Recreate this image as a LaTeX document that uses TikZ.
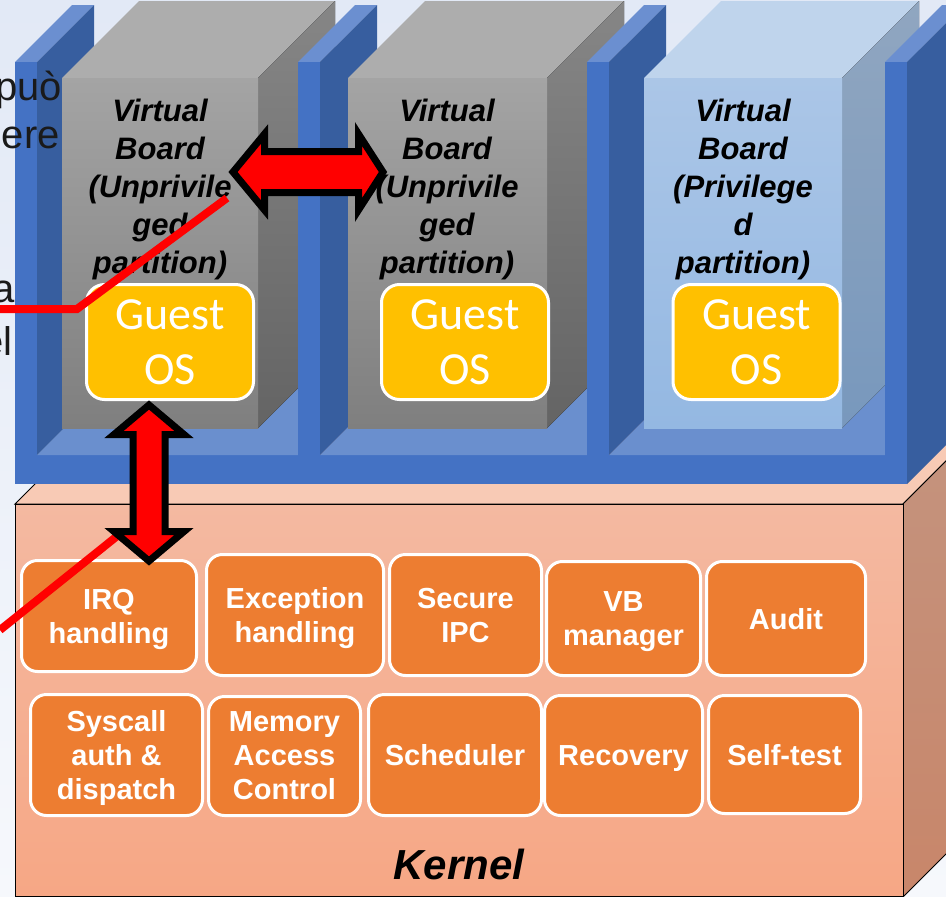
\documentclass[tikz,border=0pt]{standalone}
\usepackage{fontspec}
\setmainfont{Liberation Sans}
\newfontfamily\guestfont{Carlito}
\usetikzlibrary{calc}

\definecolor{bgtop}{HTML}{E2E9F6}
\definecolor{bgbot}{HTML}{F6F8FC}
\definecolor{platefront}{HTML}{4472C4}
\definecolor{plateside}{HTML}{375E9F}
\definecolor{platetop}{HTML}{6B8FD0}
\definecolor{floorblue}{HTML}{6A8FCE}
\definecolor{graytop}{HTML}{ADADAD}
\definecolor{grayfronttop}{HTML}{A4A4A4}
\definecolor{grayfrontbot}{HTML}{7F7F7F}
\definecolor{graysidetop}{HTML}{868686}
\definecolor{graysidebot}{HTML}{646464}
\definecolor{ltop}{HTML}{BFD4EC}
\definecolor{lfronttop}{HTML}{ABC6E7}
\definecolor{lfrontbot}{HTML}{94B8E2}
\definecolor{lsidetop}{HTML}{90A6C0}
\definecolor{lsidebot}{HTML}{7898BD}
\definecolor{guestyellow}{HTML}{FFC000}
\definecolor{modorange}{HTML}{ED7D31}
\definecolor{kerneltop}{HTML}{F8CAB5}
\definecolor{kernelfronttop}{HTML}{F4B9A1}
\definecolor{kernelfrontbot}{HTML}{F6A785}
\definecolor{kernelsidetop}{HTML}{C4947F}
\definecolor{kernelsidebot}{HTML}{C8866A}
\definecolor{textdark}{HTML}{1A1A1A}

% one divider slab of the partition rack: top, inner side and front faces
\newcommand{\plateslab}[2]{%
  \fill[platetop] (#1,62) -- (#1+22,62) -- (#1+79,5) -- (#1+57,5) -- cycle;
  \fill[plateside] (#1+22,62) -- (#1+79,5) -- (#1+79,#2-57) -- (#1+22,#2) -- cycle;
  \fill[platefront] (#1,62) rectangle (#1+22,484);
}
% one virtual board block: name, left x, right x, top colour,
% front gradient (top, bottom), side gradient (top, bottom)
\newcommand{\vbblock}[8]{%
  \fill[#4] (#2,78) -- (#3,78) -- (#3+77,1) -- (#2+77,1) -- cycle;
  \fill[top color=#7, bottom color=#8] (#3,78) -- (#3+77,1) -- (#3+77,351) -- (#3,428) -- cycle;
  \node[anchor=north west, inner sep=0, outer sep=0,
        minimum width={(#3-#2)*1pt}, minimum height=350,
        top color=#5, bottom color=#6] (#1) at (#2,78) {};
}

\tikzset{
  guest/.style={rounded corners=18, fill=guestyellow, draw=white, line width=3,
    minimum width=167, minimum height=115, inner sep=0, align=center,
    text=white, font=\guestfont\fontsize{46}{55}\selectfont},
  module/.style={rounded corners=16, fill=modorange, draw=white, line width=3,
    inner sep=0, align=center, text=white, text depth=0pt,
    font=\bfseries\fontsize{29}{34}\selectfont},
  vblabel/.style={anchor=north, inner sep=0, align=center, text=black,
    font=\bfseries\itshape\fontsize{31}{38}\selectfont},
  blockarrow/.style={draw=black, fill=red, line width=7, line join=miter, miter limit=10},
  pointer/.style={draw=red, line width=8},
  sidetext/.style={anchor=base east, inner sep=0, text=textdark,
    font=\fontsize{40}{48}\selectfont},
}

\begin{document}
\begin{tikzpicture}[x=1pt,y=-1pt]
\useasboundingbox (0,0) rectangle (946,897);
\clip (0,0) rectangle (946,897);
\fill[top color=bgtop, bottom color=bgbot] (0,0) rectangle (946,897);

% kernel block
\filldraw[fill=kerneltop, draw=black, line width=1]
  (15,504) -- (903,504) -- (1003,404) -- (115,404) -- cycle;
\filldraw[top color=kernelsidetop, bottom color=kernelsidebot, draw=black, line width=1]
  (903,504) -- (1003,404) -- (1003,797) -- (903,897) -- cycle;
\node[draw=black, line width=1, anchor=north west, inner sep=0, outer sep=0,
      minimum width=888, minimum height=392,
      top color=kernelfronttop, bottom color=kernelfrontbot] (kernel) at (15,504) {};

% partition rack: base and floors
\fill[platefront] (15,455) rectangle (907,484);
\fill[floorblue] (37,455) -- (298,455) -- (373,380) -- (112,380) -- cycle;
\fill[floorblue] (320,455) -- (587,455) -- (662,380) -- (395,380) -- cycle;
\fill[floorblue] (609,455) -- (885,455) -- (960,380) -- (684,380) -- cycle;

% slabs and virtual boards, back to front
\plateslab{15}{455}
\vbblock{vb1}{62}{258}{graytop}{grayfronttop}{grayfrontbot}{graysidetop}{graysidebot}
\plateslab{298}{455}
\vbblock{vb2}{348}{547}{graytop}{grayfronttop}{grayfrontbot}{graysidetop}{graysidebot}
\plateslab{587}{455}
\vbblock{vb3}{644}{842}{ltop}{lfronttop}{lfrontbot}{lsidetop}{lsidebot}
\plateslab{885}{484}

% board labels
\node[vblabel] (vbtext1) at (160,99) {Virtual\\Board\\(Unprivile\\ged\\partition)};
\node[vblabel] (vbtext2) at (447,99) {Virtual\\Board\\(Unprivile\\ged\\partition)};
\node[vblabel] (vbtext3) at (743,99) {Virtual\\Board\\(Privilege\\d\\partition)};

% guest operating systems
\node[guest] (guest1) at (170,342) {Guest\\OS};
\node[guest] (guest2) at (465,342) {Guest\\OS};
\node[guest] (guest3) at (756.5,342) {Guest\\OS};

% kernel modules
\node[module, minimum width=175, minimum height=111] (irq) at (109,616) {IRQ\\handling};
\node[module, minimum width=177, minimum height=121] (exc) at (295,615) {Exception\\handling};
\node[module, minimum width=152, minimum height=121] (ipc) at (465.5,615) {Secure\\IPC};
\node[module, minimum width=154, minimum height=114] (vbm) at (623.5,618.5) {VB\\manager};
\node[module, minimum width=159, minimum height=114] (audit) at (786,618.5) {Audit};
\node[module, minimum width=172, minimum height=121] (sys) at (116.5,755) {Syscall\\auth \&\\dispatch};
\node[module, minimum width=152, minimum height=119] (mac) at (284.5,756) {Memory\\Access\\Control};
\node[module, minimum width=173, minimum height=121] (sched) at (455,755) {Scheduler};
\node[module, minimum width=158, minimum height=120] (recov) at (623.5,755.5) {Recovery};
\node[module, minimum width=152, minimum height=118] (selft) at (784.5,754.5) {Self-test};

\node[anchor=base, inner sep=0, text=black,
      font=\bfseries\itshape\fontsize{42}{50}\selectfont] (kernellabel) at (459,879) {Kernel};

% slide text running in from the left
\node[sidetext] (txtA) at (62,100) {può};
\node[sidetext] (txtB) at (60,148) {ere};
\node[sidetext] (txtC) at (15,302) {a};
\node[sidetext] (txtD) at (13,355) {el};

% red pointers
\coordinate (ptrA0) at (0,309);
\coordinate (ptrA1) at (77,309);
\coordinate (ptrA2) at (227,198);
\coordinate (ptrB0) at (0,630);
\coordinate (ptrB1) at (116,537);
\draw[pointer] (ptrA0) -- (ptrA1) -- (ptrA2);
\draw[pointer] (ptrB0) -- (ptrB1);

% double block arrows
\coordinate (hl) at (233,172);
\coordinate (hr) at (383,172);
\draw[blockarrow] (hl) -- ++(31.5,-38) -- ++(0,17.5) -- ($(hr)+(-24.5,-20.5)$)
  -- ++(0,-17.5) -- (hr) -- ++(-24.5,38) -- ++(0,-17.5) -- ($(hl)+(31.5,20.5)$)
  -- ++(0,17.5) -- cycle;
\coordinate (vtop) at (149,405);
\coordinate (vbot) at (149,561);
\draw[blockarrow] (vtop) -- ++(35,29.5) -- ++(-19,0) -- ($(vbot)+(16,-29.5)$)
  -- ++(19,0) -- (vbot) -- ++(-35,-29.5) -- ++(19,0) -- ($(vtop)+(-16,29.5)$)
  -- ++(-19,0) -- cycle;
\end{tikzpicture}
\end{document}
